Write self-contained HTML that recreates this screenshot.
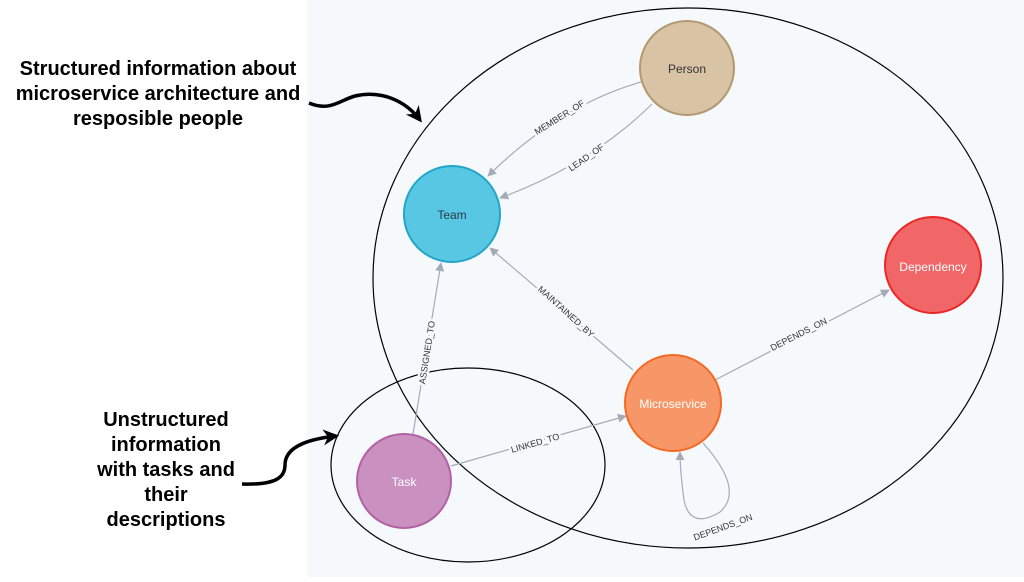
<!DOCTYPE html>
<html><head><style>
body{margin:0;width:1024px;height:577px;overflow:hidden;background:#fff;font-family:"Liberation Sans",sans-serif}
</style></head><body>
<svg width="1024" height="577" viewBox="0 0 1024 577" xmlns="http://www.w3.org/2000/svg" font-family="Liberation Sans, sans-serif">
<defs>
<marker id="a" viewBox="0 0 10 10" refX="9" refY="5" markerWidth="9" markerHeight="9" orient="auto-start-reverse" markerUnits="userSpaceOnUse"><path d="M0,0L10,5L0,10z" fill="#a5abb6"/></marker>
<marker id="b" viewBox="0 0 10 10" refX="8" refY="5" markerWidth="16" markerHeight="16" orient="auto" markerUnits="userSpaceOnUse"><path d="M0,0L10,5L0,10L3,5z" fill="#000"/></marker>
</defs>
<rect x="307" y="0" width="717" height="577" fill="#f6f9fc"/>
<ellipse cx="688" cy="278" rx="315" ry="270" fill="none" stroke="#000" stroke-width="1.2"/>
<ellipse cx="468" cy="465" rx="137" ry="97" fill="none" stroke="#000" stroke-width="1.2"/>
<g fill="none" stroke="#a5abb6" stroke-width="1.2">
<path d="M641,82 Q560,105 488,176" marker-end="url(#a)"/>
<path d="M652,104 Q590,165 500,198" marker-end="url(#a)"/>
<path d="M633,370 L490,248" marker-end="url(#a)"/>
<path d="M413,434 L441,263" marker-end="url(#a)"/>
<path d="M451,466 L626,416" marker-end="url(#a)"/>
<path d="M715,380 L889,290" marker-end="url(#a)"/>
<path d="M703,443 Q745,490 720,512 Q690,530 684,500 Q680,470 680,452" marker-end="url(#a)"/>
</g>
<g font-size="9" fill="#333" stroke="#f6f9fc" stroke-width="5" paint-order="stroke" text-anchor="middle">
<text transform="translate(561,120) rotate(-32)">MEMBER_OF</text>
<text transform="translate(588,160) rotate(-35)">LEAD_OF</text>
<text transform="translate(564,314) rotate(42)">MAINTAINED_BY</text>
<text transform="translate(430,353) rotate(-81)">ASSIGNED_TO</text>
<text transform="translate(536,446) rotate(-16)">LINKED_TO</text>
<text transform="translate(800,337) rotate(-27)">DEPENDS_ON</text>
<text transform="translate(724,530) rotate(-20)">DEPENDS_ON</text>
</g>
<g stroke-width="2" font-size="12" text-anchor="middle">
<circle cx="687" cy="68" r="47" fill="#d9c3a5" stroke="#b39871"/>
<text x="687" y="73" fill="#333" stroke="none">Person</text>
<circle cx="452" cy="214" r="48" fill="#57c7e3" stroke="#23a5c8"/>
<text x="452" y="219" fill="#2a3b45" stroke="none">Team</text>
<circle cx="933" cy="265" r="48" fill="#f16667" stroke="#eb2728"/>
<text x="933" y="271" fill="#fff" stroke="none">Dependency</text>
<circle cx="673" cy="403" r="48" fill="#f79767" stroke="#f36924"/>
<text x="673" y="408" fill="#fff" stroke="none">Microservice</text>
<circle cx="404" cy="481" r="47" fill="#c990c0" stroke="#b261a5"/>
<text x="404" y="486" fill="#fff" stroke="none">Task</text>
</g>
<g font-size="20" font-weight="bold" text-anchor="middle" fill="#000">
<text x="158" y="75">Structured information about</text>
<text x="158" y="100">microservice architecture and</text>
<text x="158" y="125">resposible people</text>
<text x="166" y="426">Unstructured</text>
<text x="166" y="451">information</text>
<text x="166" y="476">with tasks and</text>
<text x="166" y="501">their</text>
<text x="166" y="526">descriptions</text>
</g>
<g fill="none" stroke="#000" stroke-width="3.5">
<path d="M309,103 C330,112 340,100 355,96 C380,90 405,100 420,120" marker-end="url(#b)"/>
<path d="M242,484 C275,485 285,478 285,465 C285,450 300,440 336,436" marker-end="url(#b)"/>
</g>
</svg>
</body></html>
